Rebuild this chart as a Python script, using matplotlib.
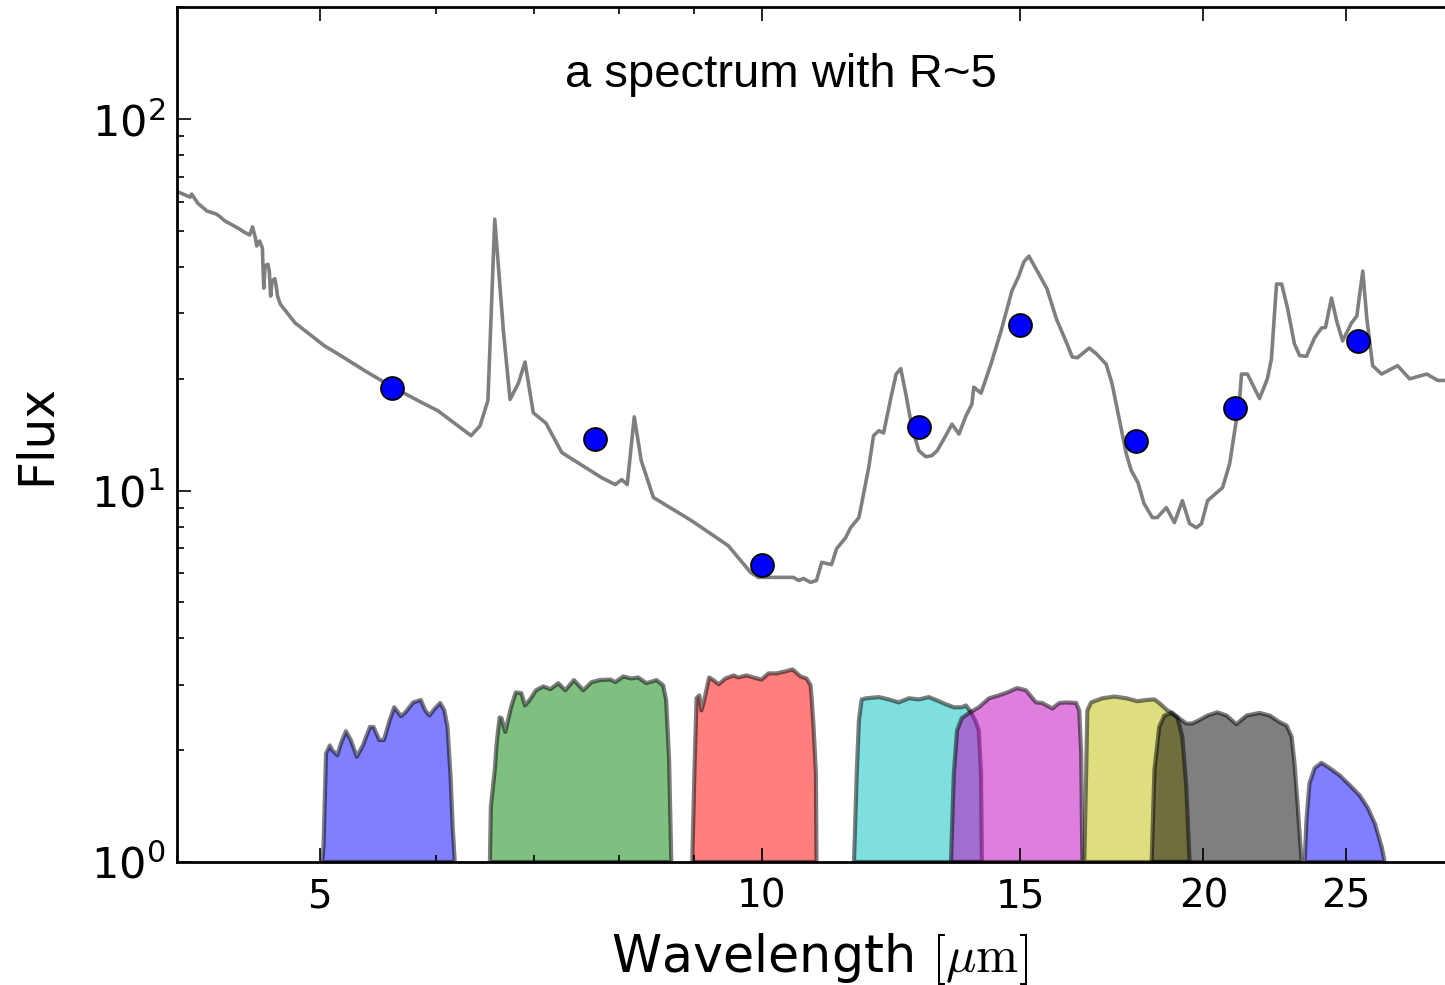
import matplotlib
matplotlib.use('Agg')
from matplotlib import pyplot as plt
from matplotlib.ticker import FixedLocator, ScalarFormatter, LogLocator, NullFormatter

# model spectrum (wavelength in micron, flux)
spec_wave = [3.98, 4.08, 4.09, 4.13, 4.19, 4.25, 4.27, 4.31, 4.36, 4.40, 4.44, 4.48, 4.50, 4.52, 4.53,
             4.55, 4.57, 4.58, 4.59, 4.61, 4.62, 4.63, 4.64, 4.66, 4.67, 4.68, 4.70, 4.81, 5.04, 5.14,
             5.37, 5.58, 5.83, 6.02, 6.34, 6.43, 6.51, 6.58, 6.67, 6.74, 6.83, 6.90, 6.99, 7.13, 7.31,
             7.78, 7.95, 8.03, 8.10, 8.19, 8.28, 8.44, 8.96, 9.49, 9.83, 9.95, 10.51, 10.60, 10.68, 10.80,
             10.90, 10.99, 11.16, 11.25, 11.41, 11.50, 11.65, 11.83, 11.92, 12.02, 12.11, 12.25, 12.35,
             12.44, 12.54, 12.66, 12.80, 12.94, 13.06, 13.17, 13.35, 13.48, 13.63, 13.78, 13.91, 13.95,
             14.11, 14.33, 14.56, 14.81, 14.97, 15.09, 15.21, 15.45, 15.65, 15.88, 16.15, 16.28, 16.41,
             16.72, 16.90, 17.17, 17.33, 17.52, 17.72, 17.86, 18.05, 18.22, 18.46, 18.60, 18.87, 19.11,
             19.35, 19.57, 19.78, 19.94, 20.13, 20.61, 20.84, 21.17, 21.23, 21.43, 21.84, 22.11, 22.25,
             22.43, 22.61, 22.82, 23.07, 23.26, 23.51, 23.81, 24.07, 24.22, 24.45, 24.65, 24.88, 25.23,
             25.44, 25.68, 25.84, 26.08, 26.45, 27.12, 27.64, 28.39, 28.89, 30.0]
spec_flux = [64.4, 61.7, 62.9, 59.4, 56.6, 55.6, 54.9, 53.2, 51.9, 50.9, 49.7, 48.8, 51.3, 47.9, 45.6,
             47.0, 45.0, 35.1, 40.3, 40.7, 39.0, 33.4, 36.7, 37.2, 35.6, 33.4, 31.8, 28.3, 24.5, 23.4,
             21.0, 19.2, 17.5, 16.4, 14.06, 14.95, 17.5, 53.8, 26.9, 17.6, 19.5, 22.2, 16.2, 15.2, 12.66,
             10.84, 10.38, 10.71, 10.38, 15.8, 12.04, 9.58, 8.30, 7.11, 6.02, 5.84, 5.84, 5.73, 5.80, 5.66,
             5.73, 6.41, 6.32, 6.98, 7.47, 7.95, 8.46, 11.53, 14.06, 14.5, 14.3, 17.8, 20.6,
             21.3, 18.2, 14.8, 12.8, 12.34, 12.42, 12.8, 14.06, 15.1, 14.2, 15.9, 17.1, 19.0,
             18.3, 21.9, 26.9, 34.5, 37.8, 41.3, 42.8, 38.3, 34.9, 29.0, 24.8, 22.9, 22.8,
             24.2, 23.4, 21.9, 19.4, 15.7, 12.57, 11.32, 10.5, 9.23, 8.46, 8.46, 9.0, 8.20,
             9.40, 8.15, 7.95, 8.15, 9.40, 10.19, 11.82, 17.7, 20.6, 20.6, 17.7, 20.0, 22.6,
             36.0, 36.0, 31.0, 24.8, 23.1, 23.0, 25.8, 27.4, 27.5, 33.0, 28.6, 25.3, 28.3,
             29.5, 39.0, 29.2, 21.7, 20.6, 21.7, 20.0, 20.6, 19.8, 19.8]

# synthetic photometry
phot_wave = [5.6, 7.7, 10.0, 12.8, 15.0, 18.0, 21.0, 25.5]
phot_flux = [18.9, 13.8, 6.29, 14.8, 27.9, 13.6, 16.7, 25.3]

# filter curves, scaled to sit on the flux axis
f560w_wave = [5.02, 5.03, 5.05, 5.08, 5.10, 5.14, 5.17, 5.21, 5.25, 5.30, 5.35, 5.41, 5.44, 5.49, 5.53,
              5.58, 5.62, 5.68, 5.72, 5.79, 5.86, 5.90, 5.94, 5.99, 6.04, 6.08, 6.11, 6.14, 6.16, 6.18]
f560w_flux = [1.0, 1.10, 1.96, 2.06, 2.00, 1.94, 2.09, 2.25, 2.13, 1.92, 2.06, 2.31, 2.31, 2.13, 2.13,
              2.41, 2.61, 2.47, 2.53, 2.69, 2.73, 2.56, 2.48, 2.59, 2.68, 2.56, 2.31, 1.69, 1.24, 1.0]
f770w_wave = [6.53, 6.54, 6.58, 6.60, 6.63, 6.65, 6.69, 6.75, 6.80, 6.86, 6.90, 6.95, 7.02, 7.10, 7.18,
              7.27, 7.35, 7.45, 7.56, 7.66, 7.76, 7.89, 7.95, 8.05, 8.15, 8.24, 8.35, 8.48, 8.57, 8.61,
              8.65, 8.68]
f770w_flux = [1.0, 1.41, 1.77, 2.09, 2.45, 2.44, 2.24, 2.61, 2.86, 2.85, 2.64, 2.73, 2.90, 2.97, 2.92,
              3.03, 2.90, 3.09, 2.90, 3.05, 3.09, 3.10, 3.05, 3.16, 3.12, 3.14, 3.03, 3.09, 2.99, 2.73,
              1.88, 1.0]
f1000w_wave = [8.97, 9.00, 9.03, 9.07, 9.10, 9.14, 9.21, 9.27, 9.35, 9.45, 9.57, 9.64, 9.77, 9.87, 10.0,
               10.11, 10.24, 10.38, 10.50, 10.63, 10.73, 10.80, 10.82, 10.85, 10.89, 10.90]
f1000w_flux = [1.0, 1.73, 2.76, 2.81, 2.56, 2.73, 3.14, 3.09, 3.01, 3.12, 3.18, 3.14, 3.18, 3.14, 3.10,
               3.22, 3.22, 3.26, 3.30, 3.16, 3.12, 2.99, 2.73, 2.31, 1.73, 1.0]
f1280w_wave = [11.56, 11.61, 11.65, 11.70, 11.79, 12.02, 12.21, 12.40, 12.60, 12.80, 13.00, 13.15, 13.35,
               13.52, 13.69, 13.78, 13.89, 14.00, 14.06, 14.11, 14.13]
f1280w_flux = [1.0, 1.73, 2.41, 2.74, 2.76, 2.78, 2.74, 2.69, 2.76, 2.74, 2.78, 2.73, 2.66,
               2.61, 2.61, 2.64, 2.53, 2.38, 2.26, 1.73, 1.0]
f1500w_wave = [13.46, 13.52, 13.59, 13.69, 13.85, 14.06, 14.29, 14.51, 14.70, 14.93, 15.14, 15.38, 15.53,
               15.78, 15.95, 16.13, 16.38, 16.46, 16.51, 16.54]
f1500w_flux = [1.0, 1.73, 2.26, 2.44, 2.52, 2.61, 2.76, 2.81, 2.86, 2.94, 2.90, 2.69, 2.68,
               2.59, 2.68, 2.69, 2.68, 2.56, 1.96, 1.0]
f1800w_wave = [16.59, 16.64, 16.67, 16.77, 17.07, 17.39, 17.72, 18.03, 18.29, 18.52, 18.66, 18.90, 19.05,
               19.20, 19.35, 19.47, 19.57]
f1800w_flux = [1.0, 1.77, 2.56, 2.69, 2.76, 2.79, 2.76, 2.71, 2.73, 2.74, 2.68, 2.56, 2.52,
               2.45, 2.17, 1.59, 1.0]
f2100w_wave = [18.44, 18.52, 18.66, 18.81, 19.01, 19.25, 19.47, 19.65, 19.87, 20.13, 20.44, 20.74, 21.06,
               21.40, 21.84, 22.19, 22.54, 22.79, 22.97, 23.07, 23.18, 23.33]
f2100w_flux = [1.0, 1.77, 2.31, 2.48, 2.52, 2.44, 2.36, 2.36, 2.41, 2.48, 2.53, 2.48, 2.35,
               2.48, 2.52, 2.48, 2.38, 2.33, 2.17, 1.85, 1.44, 1.0]
f2550w_wave = [23.44, 23.51, 23.62, 23.81, 24.07, 24.38, 24.77, 25.16, 25.56, 25.88, 26.17, 26.45, 26.58]
f2550w_flux = [1.0, 1.30, 1.63, 1.79, 1.85, 1.79, 1.71, 1.61, 1.51, 1.40, 1.27, 1.10, 1.0]

filters = [(f560w_wave, f560w_flux), (f770w_wave, f770w_flux), (f1000w_wave, f1000w_flux),
           (f1280w_wave, f1280w_flux), (f1500w_wave, f1500w_flux), (f1800w_wave, f1800w_flux),
           (f2100w_wave, f2100w_flux), (f2550w_wave, f2550w_flux)]
filter_colors = ['b', 'g', 'r', 'c', 'm', 'y', 'k', 'b']

fig = plt.figure(figsize=(14.45, 9.85), dpi=100)
ax = fig.add_axes([0.1228, 0.1249, 0.8889, 0.8675])

for (w, f), c in zip(filters, filter_colors):
    ax.fill(w, f, facecolor=c, edgecolor='k', alpha=0.5, lw=3, joinstyle='round')

ax.plot(spec_wave, spec_flux, color='k', alpha=0.5, lw=2.6, solid_joinstyle='round')
ax.plot(phot_wave, phot_flux, 'o', color='b', mec='k', mew=1.3, ms=16.5)

ax.set_xscale('log')
ax.set_yscale('log')
ax.set_xlim(4, 30)
ax.set_ylim(1, 200)

ax.xaxis.set_major_locator(FixedLocator([5, 10, 15, 20, 25]))
ax.xaxis.set_major_formatter(ScalarFormatter())
ax.xaxis.set_minor_locator(LogLocator(subs=range(2, 10)))
ax.xaxis.set_minor_formatter(NullFormatter())

for s in ax.spines.values():
    s.set_linewidth(2)
ax.tick_params(which='both', direction='in', top=True, right=True)
ax.tick_params(which='major', length=10, width=1.2)
ax.tick_params(which='minor', length=5, width=1.2)
ax.tick_params(axis='x', pad=11, labelsize=28)
ax.tick_params(axis='y', pad=9, labelsize=31)

ax.set_xlabel(r'Wavelength $[\mu\mathrm{m}]$', fontsize=36.5, math_fontfamily='cm', labelpad=11)
ax.set_ylabel('Flux', fontsize=35, labelpad=22)

ax.text(0.3018, 0.907, 'a spectrum with R~5', transform=ax.transAxes, fontsize=34,
        family='Liberation Sans', va='baseline', ha='left')

fig.savefig('out.png', dpi=100)
